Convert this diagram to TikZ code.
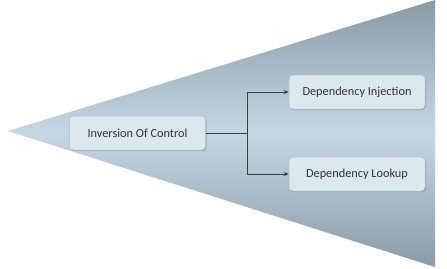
\documentclass[tikz,border=0pt]{standalone}
\usepackage{fontspec}
\setmainfont{Carlito}
\usetikzlibrary{arrows.meta,shadows}
\definecolor{edgegray}{HTML}{8A9BA6}
\definecolor{midblue}{HTML}{C4D7E3}
\definecolor{boxfill}{HTML}{DCE8EF}
\definecolor{boxline}{HTML}{B4C4CE}
\definecolor{linecol}{HTML}{3A3F44}
\definecolor{textcol}{HTML}{333333}
\tikzset{
  box/.style={draw=boxline, line width=0.5pt, fill=boxfill, rounded corners=4pt,
    minimum width=136pt, minimum height=34pt, inner sep=0pt,
    font=\fontsize{12.3}{14}\selectfont, text=textcol,
    drop shadow={shadow xshift=1pt, shadow yshift=-1.2pt, fill=black!45, opacity=0.6}},
  conn/.style={draw=linecol, line width=0.8pt},
  arr/.style={conn, -{Stealth[length=5pt,width=4pt]}}
}
\begin{document}
\begin{tikzpicture}[x=1pt,y=-1pt]
\useasboundingbox (0,0) rectangle (447,268);
\fill[white] (0,0) rectangle (447,268);
\shade[top color=edgegray, bottom color=edgegray, middle color=midblue]
  (8,131) -- (435,0) -- (435,267) -- cycle;
\node[box] (ioc) at (137.5,133) {Inversion Of Control};
\node[box] (di) at (357,92) {Dependency Injection};
\node[box] (dl) at (357,174) {Dependency Lookup};
\coordinate (j) at (247,133);
\draw[conn] (ioc.east) -- (j);
\draw[arr] (j) |- (di.west);
\draw[arr] (j) |- (dl.west);
\end{tikzpicture}
\end{document}
